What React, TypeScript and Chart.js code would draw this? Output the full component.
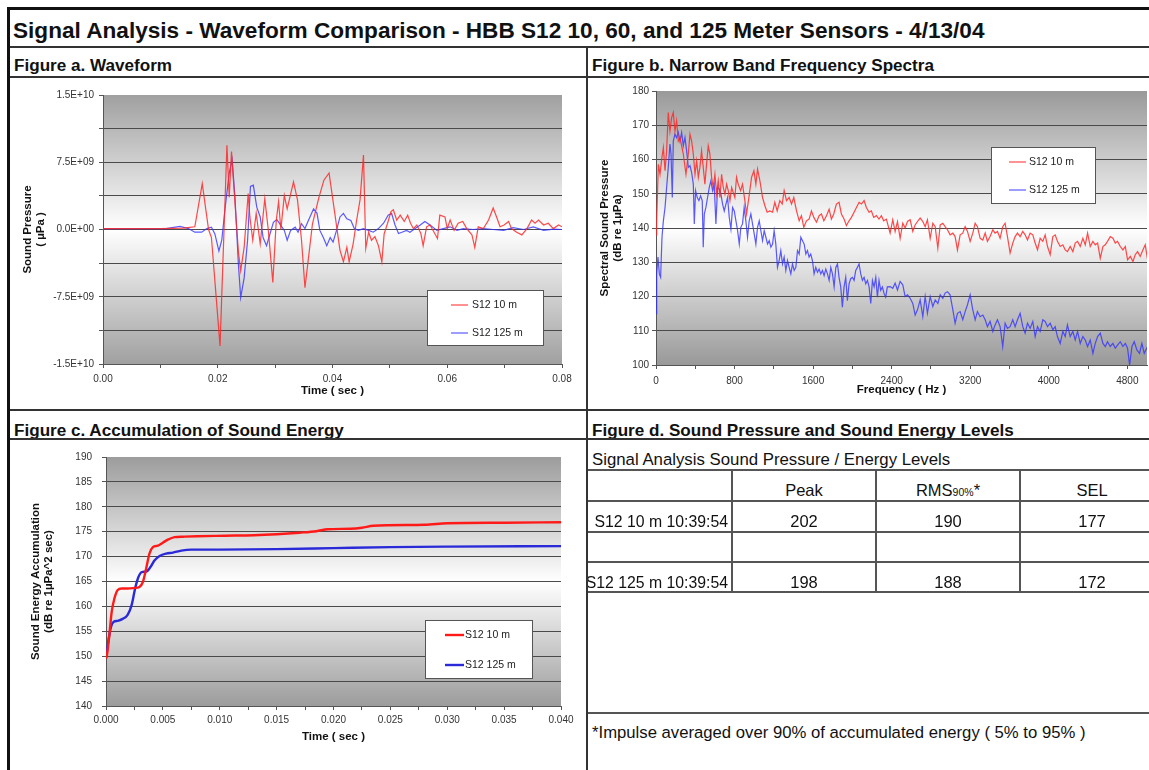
import React, { useEffect, useRef } from 'react';
import { Chart, registerables } from 'chart.js';

Chart.register(...registerables);

const FONT = '"Liberation Sans", Arial, Helvetica, sans-serif';

// ---------- Figure a: waveform (time in ms, pressure in 1e9 µPa)
const wave10Time = [0, 5, 10, 14, 16.0, 17.3, 18.4, 18.9, 20.4, 21.6, 22.0, 22.4, 23.0, 23.6, 24.0, 24.6, 25.3, 25.6, 26.1, 26.7, 27.4, 28.2, 28.8, 29.6, 30.2, 30.6, 31.0, 31.6, 32.1, 33.2, 33.9, 34.6, 35.2, 36.1, 36.5, 37.6, 38.5, 39.4, 40.4, 41.3, 41.9, 42.5, 42.9, 43.6, 44.2, 44.8, 45.4, 45.8, 46.3, 46.8, 47.4, 48.0, 48.6, 49.0, 49.6, 50.2, 50.6, 51.2, 51.8, 52.5, 53.1, 53.6, 54.1, 54.7, 55.4, 55.8, 56.4, 57.0, 57.7, 58.3, 58.7, 59.6, 60.0, 60.5, 61.2, 61.9, 62.7, 63.4, 64.3, 64.8, 65.4, 66.3, 67.2, 68.0, 68.6, 69.2, 69.9, 70.7, 71.2, 72.1, 73.0, 73.9, 74.7, 75.3, 75.9, 76.8, 77.6, 78.5, 79.4, 80.0];
const wave10 = [0.1, 0.1, 0.1, 0.15, 0.3, 5.1, 0.0, -0.9, -13.0, 9.4, 3.6, 8.7, 3.0, -2.5, -4.6, -2.0, 4.0, 1.4, -1.2, 1.8, -1.6, 3.45, 0.0, -5.9, 1.0, 3.1, 0.0, 3.8, 2.3, 5.3, 3.3, -1.2, -6.5, -1.6, 0.6, 3.5, 5.5, 6.3, 1.8, -2.3, -3.6, -2.0, -3.6, -1.6, 1.0, 3.3, 8.3, -2.1, -0.3, -1.2, -0.8, -1.8, -3.6, -0.5, 0.7, 2.0, 2.2, 1.05, 1.6, 0.9, 1.6, 0.7, 0.1, 0.5, -0.45, -1.8, 0.3, 0.5, -0.3, -1.0, 1.6, 1.4, 0.1, 1.05, -0.1, 0.7, 0.9, 0.1, -0.6, -2.0, 0.3, 0.1, 1.05, 2.4, 1.4, 0.3, 0.5, 0.9, 0.1, -0.3, -0.6, 0.1, 1.05, 0.7, 1.05, 0.5, 0.7, 0.1, 0.5, 0.3];
const wave125Time = [0, 8, 11, 13.4, 14.9, 16.0, 17.2, 18.1, 18.9, 19.5, 20.2, 20.7, 21.3, 22.0, 22.5, 23.0, 23.6, 24.0, 24.6, 25.2, 25.7, 26.2, 26.8, 27.4, 27.9, 28.5, 29.1, 29.7, 30.3, 31.0, 31.6, 32.1, 32.7, 33.5, 34.0, 34.6, 35.2, 35.8, 36.7, 37.3, 37.8, 38.4, 39.0, 39.6, 40.1, 40.7, 41.3, 41.9, 42.5, 43.2, 43.8, 44.5, 45.4, 46.3, 47.1, 48.0, 48.9, 49.7, 50.3, 50.9, 51.5, 52.1, 52.9, 53.5, 54.4, 55.3, 56.1, 57.0, 58.2, 59.3, 60.5, 61.7, 62.8, 64.5, 66.3, 68.0, 69.8, 71.5, 73.3, 75.0, 76.8, 78.5, 80.0];
const wave125 = [0.1, 0.1, 0.1, 0.35, 0.1, -0.3, -0.3, 0.1, 0.26, -0.5, -2.4, -1.2, 2.5, 6.3, 7.8, 3.6, -3.9, -7.6, -5.4, -1.2, 4.8, 4.95, 2.5, 1.4, -0.9, -1.8, -0.5, 0.8, 1.1, 0.45, -0.1, -1.2, -0.1, 0.26, -0.3, 0.64, 0.1, 1.0, 2.3, 1.8, -0.1, -0.9, -1.8, -0.9, -1.4, -0.1, 1.4, 1.8, 1.2, 1.0, 0.1, -0.1, 0.1, -0.1, -0.3, 0.1, 0.7, 1.6, 1.8, 0.5, -0.45, -0.3, -0.1, -0.3, 0.1, 0.5, 0.9, 0.5, -0.1, 0.1, 0.3, -0.1, 0.1, 0.0, 0.1, 0.0, -0.1, 0.2, 0.0, 0.3, -0.1, 0.05, 0.0];
const waveTimeTicks = [0, 0.01, 0.02, 0.03, 0.04, 0.05, 0.06, 0.07, 0.08];
const waveTimeLabels = ['0.00', '', '0.02', '', '0.04', '', '0.06', '', '0.08'];
const pressureTicks = [-1.5e10, -1.125e10, -7.5e9, -3.75e9, 0, 3.75e9, 7.5e9, 1.125e10, 1.5e10];
const pressureLabels = ['-1.5E+10', '', '-7.5E+09', '', '0.0E+00', '', '7.5E+09', '', '1.5E+10'];

// ---------- Figure b: narrow band spectra (Hz, dB re 1µPa)
const spec10Freq = [0, 7, 24, 41, 58, 75, 92, 108, 125, 142, 159, 176, 193, 210, 227, 244, 261, 278, 305, 329, 346, 363, 380, 397, 414, 431, 447, 464, 481, 498, 515, 532, 549, 566, 583, 600, 617, 634, 651, 668, 685, 702, 719, 736, 753, 770, 803, 820, 837, 861, 881, 905, 922, 946, 973, 997, 1017, 1034, 1058, 1085, 1109, 1132, 1159, 1187, 1210, 1234, 1261, 1285, 1305, 1329, 1356, 1380, 1403, 1431, 1458, 1481, 1505, 1532, 1559, 1583, 1607, 1634, 1661, 1685, 1709, 1736, 1763, 1786, 1810, 1837, 1864, 1888, 1915, 1939, 1966, 1990, 2017, 2041, 2068, 2092, 2119, 2142, 2170, 2193, 2217, 2244, 2271, 2295, 2319, 2346, 2384, 2411, 2435, 2459, 2486, 2513, 2537, 2561, 2588, 2615, 2639, 2663, 2690, 2717, 2741, 2764, 2792, 2819, 2843, 2870, 2894, 2921, 2944, 2968, 2995, 3023, 3046, 3070, 3097, 3124, 3148, 3172, 3199, 3226, 3250, 3273, 3301, 3328, 3352, 3375, 3402, 3430, 3453, 3477, 3504, 3531, 3555, 3579, 3606, 3633, 3657, 3681, 3708, 3735, 3759, 3783, 3810, 3837, 3861, 3885, 3912, 3939, 3963, 3987, 4014, 4041, 4065, 4088, 4116, 4143, 4167, 4190, 4218, 4245, 4269, 4293, 4320, 4347, 4371, 4395, 4422, 4449, 4473, 4497, 4524, 4551, 4575, 4598, 4626, 4653, 4677, 4700, 4728, 4755, 4779, 4802, 4830, 4857, 4880, 4904, 4931, 4958, 4982, 5006];
const spec10 = [138, 142.1, 158.6, 155.7, 160.1, 163.5, 156.7, 162.5, 173.7, 168.3, 172.2, 173.7, 168.3, 171.3, 165.4, 166.4, 164.0, 161.6, 155.7, 161.6, 167.4, 165.4, 161.6, 155.7, 159.6, 154.8, 157.7, 162.5, 157.7, 152.8, 158.6, 164.0, 161.6, 154.8, 151.8, 155.7, 149.9, 153.8, 148.9, 155.7, 151.8, 149.9, 152.8, 150.9, 148.0, 151.8, 148.9, 154.8, 152.8, 150.9, 152.8, 148.0, 144.1, 148.9, 154.8, 156.7, 152.8, 157.2, 153.8, 148.9, 146.5, 144.6, 145.0, 144.6, 147.5, 145.0, 148.0, 147.0, 150.9, 148.0, 148.9, 147.0, 148.9, 145.0, 142.1, 143.6, 140.2, 142.1, 142.6, 145.0, 143.1, 141.7, 143.6, 144.1, 142.1, 143.6, 145.5, 142.6, 144.1, 147.0, 147.5, 144.1, 142.6, 140.7, 142.1, 143.1, 144.6, 146.0, 147.5, 147.0, 148.0, 146.0, 144.6, 145.0, 143.1, 143.6, 142.6, 143.6, 142.1, 142.6, 138.5, 142.4, 139.0, 141.9, 137.0, 141.4, 140.0, 141.9, 142.4, 139.0, 140.9, 141.9, 142.9, 141.9, 140.4, 142.4, 137.0, 141.4, 140.4, 134.1, 140.9, 141.4, 140.4, 139.5, 138.0, 138.5, 137.5, 133.6, 138.0, 138.5, 140.4, 139.0, 136.1, 138.5, 141.4, 140.4, 137.0, 136.5, 138.5, 136.1, 137.5, 139.5, 138.5, 139.0, 137.0, 140.4, 141.4, 137.5, 132.7, 135.6, 137.5, 138.5, 137.5, 139.0, 138.0, 136.5, 138.5, 138.0, 135.6, 133.6, 137.0, 136.1, 138.0, 134.6, 132.2, 137.5, 138.0, 136.1, 134.6, 135.1, 133.6, 133.1, 134.6, 133.1, 135.6, 136.1, 134.6, 137.0, 135.1, 138.5, 134.6, 136.1, 135.1, 135.6, 131.2, 134.6, 135.1, 136.1, 137.5, 137.0, 135.6, 136.1, 134.6, 133.6, 134.6, 130.7, 131.7, 130.2, 132.2, 133.1, 131.7, 133.6, 135.1, 130.7];
const spec125Freq = [0, 7, 20, 34, 47, 61, 75, 92, 108, 125, 142, 153, 166, 176, 193, 210, 227, 244, 261, 278, 295, 312, 329, 346, 363, 380, 390, 403, 420, 437, 454, 471, 481, 492, 508, 525, 542, 559, 576, 593, 610, 627, 644, 661, 678, 695, 712, 729, 746, 763, 780, 797, 814, 831, 848, 864, 881, 898, 915, 932, 949, 966, 983, 1000, 1017, 1034, 1051, 1068, 1085, 1102, 1119, 1136, 1153, 1170, 1187, 1203, 1220, 1237, 1254, 1271, 1288, 1305, 1322, 1339, 1356, 1373, 1390, 1407, 1424, 1441, 1458, 1475, 1492, 1509, 1526, 1542, 1559, 1576, 1593, 1610, 1627, 1644, 1661, 1678, 1695, 1712, 1729, 1746, 1763, 1780, 1797, 1814, 1831, 1848, 1864, 1881, 1898, 1915, 1932, 1949, 1966, 1983, 2000, 2017, 2034, 2051, 2068, 2085, 2102, 2119, 2136, 2153, 2170, 2187, 2204, 2221, 2238, 2255, 2271, 2288, 2305, 2322, 2339, 2356, 2384, 2411, 2435, 2459, 2486, 2513, 2537, 2561, 2588, 2615, 2639, 2663, 2690, 2717, 2741, 2764, 2792, 2819, 2843, 2870, 2894, 2921, 2944, 2968, 2995, 3023, 3046, 3070, 3097, 3124, 3148, 3172, 3199, 3226, 3250, 3273, 3301, 3328, 3352, 3375, 3402, 3430, 3453, 3477, 3504, 3531, 3555, 3579, 3606, 3633, 3657, 3681, 3708, 3735, 3759, 3783, 3810, 3837, 3861, 3885, 3912, 3939, 3963, 3987, 4014, 4041, 4065, 4088, 4116, 4143, 4167, 4190, 4218, 4245, 4269, 4293, 4320, 4347, 4371, 4395, 4422, 4449, 4473, 4497, 4524, 4551, 4575, 4598, 4626, 4653, 4677, 4700, 4728, 4755, 4779, 4802, 4823, 4847, 4870, 4897, 4924, 4948, 4972, 5006];
const spec125 = [115.0, 126.6, 131.5, 126.6, 125.6, 137.3, 142.1, 146.0, 151.8, 157.7, 164.5, 161.6, 148.9, 165.4, 167.4, 166.4, 167.9, 165.4, 167.9, 164.0, 166.4, 162.5, 157.7, 158.2, 156.2, 152.8, 141.2, 150.9, 148.9, 148.0, 149.4, 148.0, 134.4, 144.1, 146.0, 148.9, 151.8, 153.8, 150.9, 152.8, 141.2, 151.8, 151.4, 149.9, 147.0, 145.0, 147.0, 148.9, 143.1, 139.7, 146.0, 145.0, 142.1, 139.2, 135.3, 140.2, 141.2, 146.0, 142.1, 137.3, 142.1, 144.1, 141.2, 138.3, 135.3, 140.2, 142.1, 139.2, 136.3, 139.2, 137.3, 135.3, 136.3, 134.4, 135.3, 139.2, 135.3, 128.5, 130.5, 133.4, 129.5, 131.5, 127.6, 130.5, 128.5, 126.6, 129.5, 127.6, 128.5, 133.4, 132.4, 137.3, 136.3, 135.3, 132.4, 133.4, 131.5, 132.4, 130.5, 126.6, 128.5, 127.1, 128.0, 126.6, 127.6, 126.1, 128.0, 126.6, 124.7, 128.5, 126.6, 122.8, 128.5, 129.5, 125.6, 122.8, 116.9, 122.8, 125.6, 118.8, 123.7, 125.2, 125.6, 124.7, 127.6, 128.5, 129.5, 126.6, 124.7, 125.6, 123.7, 124.7, 122.8, 118.0, 124.7, 122.8, 125.6, 119.8, 124.7, 121.8, 122.8, 120.9, 119.8, 122.8, 122.9, 122.4, 123.9, 121.9, 124.4, 123.4, 120.0, 120.5, 119.5, 118.0, 114.6, 116.1, 119.0, 114.1, 120.0, 115.1, 120.0, 117.1, 119.0, 118.0, 120.5, 119.5, 121.0, 121.4, 120.5, 116.1, 112.2, 115.1, 115.6, 113.2, 115.6, 117.6, 120.5, 116.1, 113.2, 115.6, 114.1, 114.6, 113.2, 111.2, 112.7, 109.8, 111.7, 113.2, 111.2, 105.4, 112.2, 110.7, 111.2, 113.2, 111.2, 113.2, 115.1, 111.2, 109.3, 112.2, 110.7, 112.7, 108.3, 111.2, 109.8, 113.2, 112.7, 111.2, 112.2, 110.3, 111.2, 108.3, 106.3, 109.8, 108.3, 111.7, 108.3, 109.8, 107.3, 109.8, 106.3, 108.3, 107.3, 105.4, 107.3, 103.4, 106.3, 108.3, 109.3, 106.3, 105.4, 106.8, 105.4, 106.3, 104.9, 105.8, 106.8, 105.4, 106.3, 104.9, 100.0, 105.4, 106.8, 104.4, 103.4, 106.3, 103.4, 105.4];
const freqTicks = [0, 400, 800, 1200, 1600, 2000, 2400, 2800, 3200, 3600, 4000, 4400, 4800];
const freqLabels = ['0', '', '800', '', '1600', '', '2400', '', '3200', '', '4000', '', '4800'];
const spectraTicks = [100, 110, 120, 130, 140, 150, 160, 170, 180];
const spectraLabels = ['100', '110', '120', '130', '140', '150', '160', '170', '180'];

// ---------- Figure c: energy accumulation (time in ms, dB re 1µPa^2 sec)
const energy10Time = [0, 0.1, 0.3, 0.5, 0.74, 1.03, 1.38, 1.9, 2.5, 2.94, 3.24, 3.53, 3.82, 4.12, 4.56, 5.0, 5.44, 6.03, 6.76, 8.0, 10.5, 13.0, 15.0, 17.0, 18.5, 19.5, 21.5, 22.5, 23.5, 28.0, 30.0, 35.0, 40.0];
const energy10 = [149.5, 150.5, 154.3, 158.9, 161.6, 163.3, 163.6, 163.6, 163.7, 163.9, 164.9, 167.6, 170.6, 171.9, 172.2, 172.8, 173.4, 173.9, 174.0, 174.1, 174.2, 174.3, 174.5, 174.8, 175.1, 175.5, 175.6, 175.8, 176.2, 176.4, 176.7, 176.8, 176.9];
const energy125Time = [0, 0.2, 0.44, 0.68, 1.03, 1.47, 1.9, 2.26, 2.56, 2.85, 3.15, 3.53, 3.91, 4.26, 4.71, 5.29, 5.88, 6.62, 7.5, 10.0, 15.0, 20.0, 25.0, 30.0, 40.0];
const energy125 = [149.6, 153.0, 155.9, 156.9, 157.1, 157.5, 158.3, 160.3, 163.6, 165.9, 166.9, 167.0, 167.9, 169.2, 170.1, 170.6, 170.8, 171.2, 171.4, 171.4, 171.5, 171.7, 171.9, 172.0, 172.1];
const energyTimeTicks = [0, 0.0025, 0.005, 0.0075, 0.01, 0.0125, 0.015, 0.0175, 0.02, 0.0225, 0.025, 0.0275, 0.03, 0.0325, 0.035, 0.0375, 0.04];
const energyTimeLabels = ['0.000', '', '0.005', '', '0.010', '', '0.015', '', '0.020', '', '0.025', '', '0.030', '', '0.035', '', '0.040'];
const energyTicks = [140, 145, 150, 155, 160, 165, 170, 175, 180, 185, 190];
const energyLabels = ['140', '145', '150', '155', '160', '165', '170', '175', '180', '185', '190'];

// ---------- Figure d: levels table
const levelRows = ['S12 10 m 10:39:54', '', 'S12 125 m 10:39:54'];
const peakLevels = [202, null, 198];
const rmsLevels = [190, null, 188];
const selLevels = [177, null, 172];

const seriesNames = ['S12 10 m', 'S12 125 m'];

// ---------- plugins
const plotGradient = {
  id: 'plotGradient',
  beforeDraw(chart: any, _a: any, o: any) {
    const { ctx, chartArea } = chart;
    if (!chartArea) return;
    const { left, top, right, bottom } = chartArea;
    const g = ctx.createLinearGradient(0, top, 0, bottom);
    g.addColorStop(0, o.edge);
    g.addColorStop(o.mid, '#ffffff');
    g.addColorStop(1, o.edge);
    ctx.save();
    ctx.fillStyle = g;
    ctx.fillRect(left, top, right - left, bottom - top);
    ctx.restore();
  },
};

const boxLegend = {
  id: 'boxLegend',
  afterDatasetsDraw(chart: any, _a: any, o: any) {
    const ctx = chart.ctx;
    ctx.save();
    ctx.fillStyle = '#ffffff';
    ctx.fillRect(o.x, o.y, o.w, o.h);
    ctx.strokeStyle = '#555';
    ctx.lineWidth = 1;
    ctx.strokeRect(o.x + 0.5, o.y + 0.5, o.w - 1, o.h - 1);
    ctx.font = `${o.fontSize}px ${FONT}`;
    ctx.textBaseline = 'middle';
    ctx.textAlign = 'left';
    const rows = [o.row1, o.row2];
    chart.data.datasets.forEach((ds: any, i: number) => {
      const y = o.y + rows[i];
      ctx.strokeStyle = ds.borderColor;
      ctx.lineWidth = o.lineWidth;
      ctx.beginPath();
      ctx.moveTo(o.x + o.s0, y);
      ctx.lineTo(o.x + o.s1, y);
      ctx.stroke();
      ctx.fillStyle = '#222';
      ctx.fillText(ds.label, o.x + o.tx, y);
    });
    ctx.restore();
  },
};

const tickFont = { family: FONT, size: 10 };
const titleFont = { family: FONT, size: 11.5, weight: 'bold' as const, lineHeight: 1.15 };

function axisX(min: number, max: number, ticks: number[], labels: string[], title: string, height: number, titlePad: number, tickPad: number) {
  return {
    type: 'linear' as const,
    min,
    max,
    afterBuildTicks: (s: any) => { s.ticks = ticks.map((v) => ({ value: v })); },
    afterFit: (s: any) => { s.height = height; },
    ticks: { autoSkip: false, maxRotation: 0, minRotation: 0, padding: tickPad, color: '#333', font: tickFont, callback: (_v: any, i: number) => labels[i] },
    grid: { drawOnChartArea: false, drawTicks: true, tickLength: 4, tickColor: '#555', color: '#555' },
    border: { display: true, color: '#555', width: 1 },
    title: { display: true, text: title, color: '#111', font: titleFont, padding: { top: 0, bottom: titlePad } },
  };
}

function axisY(min: number, max: number, ticks: number[], labels: string[], title: string[], width: number, titlePad: number, tickPad: number) {
  return {
    type: 'linear' as const,
    min,
    max,
    afterBuildTicks: (s: any) => { s.ticks = ticks.map((v) => ({ value: v })); },
    afterFit: (s: any) => { s.width = width; },
    ticks: { autoSkip: false, padding: tickPad, color: '#333', font: tickFont, callback: (_v: any, i: number) => labels[i] },
    grid: {
      drawTicks: true,
      tickLength: 4,
      tickColor: '#555',
      lineWidth: 1,
      color: (c: any) => (c.tick && c.tick.value === max ? 'rgba(0,0,0,0)' : '#4a4a4a'),
    },
    border: { display: true, color: '#555', width: 1 },
    title: { display: true, text: title, color: '#111', font: titleFont, padding: { top: titlePad, bottom: 0 } },
  };
}

function pts(xs: number[], ys: number[], xScale: number, yScale: number) {
  return xs.map((x, i) => ({ x: x * xScale, y: ys[i] * yScale }));
}

function baseOptions(padding: any, legend: any, edge: string) {
  return {
    responsive: false,
    animation: false as const,
    devicePixelRatio: 1,
    layout: { padding },
    plugins: {
      legend: { display: false },
      tooltip: { enabled: false },
      plotGradient: { edge, mid: 0.5 },
      boxLegend: legend,
    },
  };
}

function waveConfig() {
  return {
    type: 'line',
    data: {
      datasets: [
        { label: seriesNames[0], data: pts(wave10Time, wave10, 0.001, 1e9), borderColor: 'rgba(255,40,40,0.85)', borderWidth: 1.2, pointRadius: 0, tension: 0 },
        { label: seriesNames[1], data: pts(wave125Time, wave125, 0.001, 1e9), borderColor: 'rgba(50,50,255,0.8)', borderWidth: 1.2, pointRadius: 0, tension: 0 },
      ],
    },
    options: {
      ...baseOptions({ left: 0, top: 16, right: 24, bottom: 0 }, { x: 417, y: 211, w: 117, h: 56, row1: 15, row2: 43, s0: 24, s1: 41, tx: 45, fontSize: 10.5, lineWidth: 1.2 }, '#a0a0a0'),
      scales: {
        x: axisX(0, 0.08, waveTimeTicks, waveTimeLabels, 'Time ( sec )', 45, 11.4, 5),
        y: axisY(-1.5e10, 1.5e10, pressureTicks, pressureLabels, ['Sound Pressure', '( µPa )'], 93, 11.4, 5),
      },
    },
    plugins: [plotGradient, boxLegend],
  };
}

function spectraConfig() {
  return {
    type: 'line',
    data: {
      datasets: [
        { label: seriesNames[0], data: pts(spec10Freq, spec10, 1, 1), borderColor: 'rgba(255,40,40,0.85)', borderWidth: 1.2, pointRadius: 0, tension: 0 },
        { label: seriesNames[1], data: pts(spec125Freq, spec125, 1, 1), borderColor: 'rgba(50,50,255,0.8)', borderWidth: 1.2, pointRadius: 0, tension: 0 },
      ],
    },
    options: {
      ...baseOptions({ left: 0, top: 14, right: 2, bottom: 0 }, { x: 402, y: 70, w: 105, h: 57, row1: 15, row2: 43, s0: 18, s1: 35, tx: 38, fontSize: 10.5, lineWidth: 1.2 }, '#999999'),
      scales: {
        x: axisX(0, 5000, freqTicks, freqLabels, 'Frequency ( Hz )', 44, 12.4, 6),
        y: axisY(100, 180, spectraTicks, spectraLabels, ['Spectral Sound Pressure', '(dB re 1µPa)'], 67, 9.4, 3),
      },
    },
    plugins: [plotGradient, boxLegend],
  };
}

function energyConfig() {
  return {
    type: 'line',
    data: {
      datasets: [
        { label: seriesNames[0], data: pts(energy10Time, energy10, 0.001, 1), borderColor: '#ff1a1a', borderWidth: 2.4, pointRadius: 0, cubicInterpolationMode: 'monotone' },
        { label: seriesNames[1], data: pts(energy125Time, energy125, 0.001, 1), borderColor: '#2a2ad8', borderWidth: 2.4, pointRadius: 0, cubicInterpolationMode: 'monotone' },
      ],
    },
    options: {
      ...baseOptions({ left: 0, top: 13, right: 25, bottom: 0 }, { x: 415, y: 179, w: 108, h: 59, row1: 15, row2: 45, s0: 20, s1: 39, tx: 40, fontSize: 10.5, lineWidth: 2.4 }, '#9c9c9c'),
      scales: {
        x: axisX(0, 0.04, energyTimeTicks, energyTimeLabels, 'Time ( sec )', 64, 26.4, 4.7),
        y: axisY(140, 190, energyTicks, energyLabels, ['Sound Energy Accumulation', '(dB re 1µPa^2 sec)'], 96, 19.4, 10),
      },
    },
    plugins: [plotGradient, boxLegend],
  };
}

function ChartBox({ make, left, top, width, height }: any) {
  const ref = useRef<HTMLCanvasElement | null>(null);
  useEffect(() => {
    const chart = new Chart(ref.current as HTMLCanvasElement, make());
    return () => chart.destroy();
  }, []);
  return <canvas ref={ref} width={width} height={height} style={{ position: 'absolute', left, top, width, height }} />;
}

function HLine({ left, top, width, h = 2, color = '#333' }: any) {
  return <div style={{ position: 'absolute', left, top, width, height: h, background: color, zIndex: 2 }} />;
}
function VLine({ left, top, height, w = 2, color = '#333' }: any) {
  return <div style={{ position: 'absolute', left, top, width: w, height, background: color, zIndex: 2 }} />;
}
function Txt({ left, cy, size, bold, children, width, align }: any) {
  const lh = Math.round(size * 1.2);
  return (
    <div style={{ position: 'absolute', left, top: cy - lh / 2, width, textAlign: align || 'left', fontSize: size, lineHeight: `${lh}px`, fontWeight: bold ? 'bold' : 'normal', whiteSpace: 'nowrap', color: '#111', zIndex: 1 }}>
      {children}
    </div>
  );
}

const colX = [588, 732, 876, 1020, 1164];
const rowCy = [521, 551, 582];

export default function App() {
  return (
    <div style={{ position: 'absolute', left: 0, top: 0, width: 1149, height: 770, overflow: 'hidden', background: '#fff', fontFamily: FONT }}>
      <ChartBox make={waveConfig} left={10} top={79} width={576} height={330} />
      <ChartBox make={spectraConfig} left={589} top={77} width={560} height={332} />
      <ChartBox make={energyConfig} left={10} top={441} width={576} height={329} />

      {/* frame */}
      <div style={{ position: 'absolute', left: 7, top: 7, width: 1200, height: 800, borderLeft: '3px solid #111', borderTop: '3px solid #111', zIndex: 3 }} />
      <Txt left={13} cy={30} size={22.6} bold>Signal Analysis - Waveform Comparison - HBB S12 10, 60, and 125 Meter Sensors - 4/13/04</Txt>
      <HLine left={10} top={46} width={1139} />
      <VLine left={586} top={47} height={724} />
      <Txt left={14} cy={65} size={17.1} bold>Figure a. Waveform</Txt>
      <Txt left={592} cy={65} size={17.1} bold>Figure b. Narrow Band Frequency Spectra</Txt>
      <HLine left={10} top={76} width={1139} />
      <HLine left={10} top={409} width={1139} />
      <Txt left={14} cy={430} size={17.1} bold>Figure c. Accumulation of Sound Energy</Txt>
      <Txt left={592} cy={430} size={17.1} bold>Figure d. Sound Pressure and Sound Energy Levels</Txt>
      <HLine left={10} top={438} width={1139} />

      {/* table */}
      <Txt left={592} cy={460} size={16.8}>Signal Analysis Sound Pressure / Energy Levels</Txt>
      <HLine left={588} top={469} width={561} color="#555" />
      {[500, 531, 561, 591].map((y) => <HLine key={y} left={588} top={y} width={561} color="#555" />)}
      {[731, 875, 1019].map((x) => <VLine key={x} left={x} top={470} height={122} color="#555" />)}
      <Txt left={colX[1]} width={colX[2] - colX[1]} align="center" cy={490} size={16.5}>Peak</Txt>
      <Txt left={colX[2]} width={colX[3] - colX[2]} align="center" cy={490} size={16.5}>
        RMS<span style={{ fontSize: 10.5 }}>90%</span>*
      </Txt>
      <Txt left={colX[3]} width={colX[4] - colX[3]} align="center" cy={490} size={16.5}>SEL</Txt>
      {levelRows.map((r, i) => (
        <React.Fragment key={i}>
          <Txt left={540} width={188} align="right" cy={rowCy[i]} size={15.8}>{r}</Txt>
          <Txt left={colX[1]} width={colX[2] - colX[1]} align="center" cy={rowCy[i]} size={16.5}>{peakLevels[i] ?? ''}</Txt>
          <Txt left={colX[2]} width={colX[3] - colX[2]} align="center" cy={rowCy[i]} size={16.5}>{rmsLevels[i] ?? ''}</Txt>
          <Txt left={colX[3]} width={colX[4] - colX[3]} align="center" cy={rowCy[i]} size={16.5}>{selLevels[i] ?? ''}</Txt>
        </React.Fragment>
      ))}
      <HLine left={588} top={712} width={561} color="#555" />
      <Txt left={592} cy={733} size={16.7}>*Impulse averaged over 90% of accumulated energy ( 5% to 95% )</Txt>
    </div>
  );
}
